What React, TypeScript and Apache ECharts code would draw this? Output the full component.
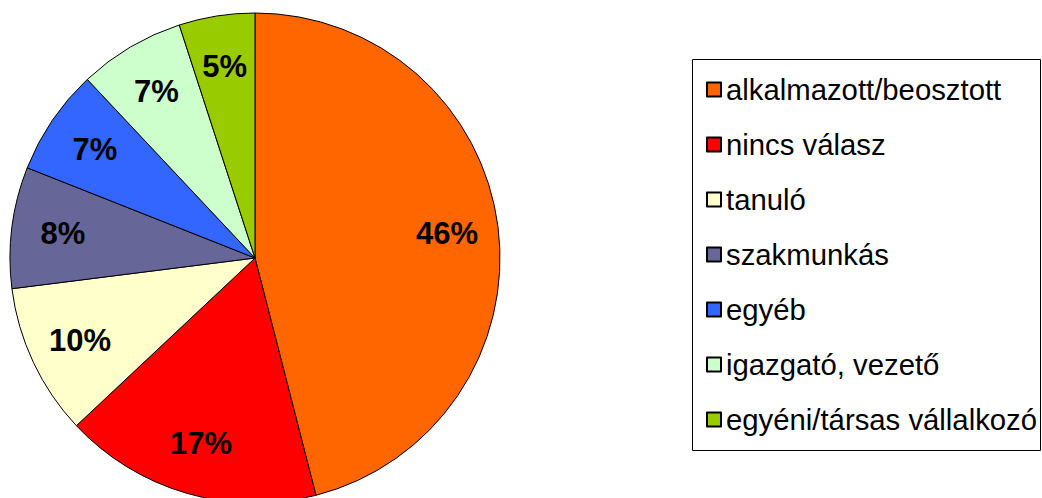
import React, { useEffect, useRef } from "react";
import * as echarts from "echarts";

const categories = [
  "alkalmazott/beosztott",
  "nincs válasz",
  "tanuló",
  "szakmunkás",
  "egyéb",
  "igazgató, vezető",
  "egyéni/társas vállalkozó",
];
const values = [46, 17, 10, 8, 7, 7, 5];
const colors = ["#FF6600", "#FF0000", "#FFFFCC", "#666699", "#3366FF", "#CCFFCC", "#99CC00"];

const FONT = '"Liberation Sans", Arial, sans-serif';

export default function App() {
  const ref = useRef<HTMLDivElement>(null);
  useEffect(() => {
    if (!ref.current) return;
    const chart = echarts.init(ref.current, null, { renderer: "svg" });
    const data = categories.map((name, i) => ({
      name,
      value: values[i],
      itemStyle: { color: colors[i], borderColor: "#000", borderWidth: 1 },
    }));
    chart.setOption({
      animation: false,
      backgroundColor: "#fff",
      graphic: [
        {
          type: "rect",
          shape: { x: 692.5, y: 59.5, width: 348, height: 391 },
          style: { fill: "#fff", stroke: "#000", lineWidth: 1 },
          z: -1,
        },
      ],
      legend: {
        orient: "vertical",
        left: 692,
        top: 60,
        padding: [15, 4, 10, 14],
        itemWidth: 14,
        itemHeight: 14,
        itemGap: 26,
        icon: "rect",
        selectedMode: false,
        textStyle: { fontFamily: FONT, fontSize: 29.3, color: "#000", lineHeight: 29 },
        data: categories,
      },
      series: [
        {
          type: "pie",
          center: [255, 258],
          radius: [0, 245],
          startAngle: 90,
          clockwise: true,
          silent: true,
          label: { show: false },
          labelLine: { show: false },
          data,
        },
        {
          type: "pie",
          center: [255, 258],
          radius: [136, 245],
          startAngle: 90,
          clockwise: true,
          silent: true,
          legendHoverLink: false,
          itemStyle: { color: "transparent", borderWidth: 0 },
          label: {
            show: true,
            position: "inside",
            formatter: "{c}%",
            fontFamily: FONT,
            fontSize: 31,
            fontWeight: "bold",
            color: "#000",
          },
          labelLine: { show: false },
          data: categories.map((name, i) => ({
            name: name + " ",
            value: values[i],
            itemStyle: { color: "transparent", borderWidth: 0 },
          })),
        },
      ],
    });
    return () => chart.dispose();
  }, []);
  return (
    <div
      ref={ref}
      style={{ position: "fixed", left: 0, top: 0, width: 1042, height: 498 }}
    />
  );
}
